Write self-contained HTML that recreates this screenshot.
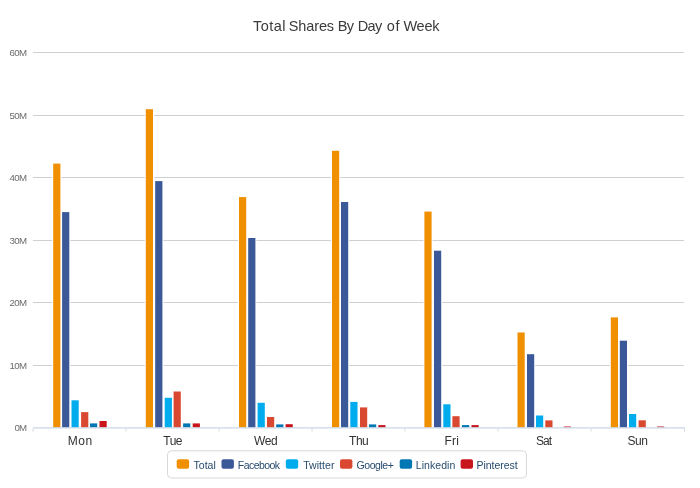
<!DOCTYPE html>
<html><head><meta charset="utf-8"><title>Total Shares By Day of Week</title>
<style>
html,body{margin:0;padding:0;background:#fff}
svg{display:block}
text{font-family:"Liberation Sans",sans-serif}
</style></head><body>
<svg width="700" height="488" viewBox="0 0 700 488">
<defs><filter id="soft" x="0" y="0" width="100%" height="100%" filterUnits="userSpaceOnUse"><feGaussianBlur stdDeviation="0.3"/></filter></defs>
<rect width="700" height="488" fill="#fff"/>
<g filter="url(#soft)">

<path d="M33 52.5H684" stroke="#d0d0d0" stroke-width="1"/>
<path d="M33 115.5H684" stroke="#d0d0d0" stroke-width="1"/>
<path d="M33 177.5H684" stroke="#d0d0d0" stroke-width="1"/>
<path d="M33 240.5H684" stroke="#d0d0d0" stroke-width="1"/>
<path d="M33 302.5H684" stroke="#d0d0d0" stroke-width="1"/>
<path d="M33 365.5H684" stroke="#d0d0d0" stroke-width="1"/>
<text y="31.1" font-size="14.5" fill="#3a3a3a"><tspan x="252.93" style="letter-spacing:0.49px">Total</tspan> <tspan x="288.75" style="letter-spacing:-0.12px">Shares</tspan> <tspan x="337.75" style="letter-spacing:-0.62px">By</tspan> <tspan x="357.75" style="letter-spacing:-0.60px">Day</tspan> <tspan x="386.67" style="letter-spacing:0.80px">of</tspan> <tspan x="403.38" style="letter-spacing:-0.21px">Week</tspan></text>
<text x="27" y="55.6" text-anchor="end" font-size="9.7" fill="#6c6c6c" textLength="17.6" lengthAdjust="spacing">60M</text>
<text x="27" y="118.6" text-anchor="end" font-size="9.7" fill="#6c6c6c" textLength="17.6" lengthAdjust="spacing">50M</text>
<text x="27" y="180.6" text-anchor="end" font-size="9.7" fill="#6c6c6c" textLength="17.6" lengthAdjust="spacing">40M</text>
<text x="27" y="243.6" text-anchor="end" font-size="9.7" fill="#6c6c6c" textLength="17.6" lengthAdjust="spacing">30M</text>
<text x="27" y="305.6" text-anchor="end" font-size="9.7" fill="#6c6c6c" textLength="17.6" lengthAdjust="spacing">20M</text>
<text x="27" y="368.6" text-anchor="end" font-size="9.7" fill="#6c6c6c" textLength="17.6" lengthAdjust="spacing">10M</text>
<text x="27" y="431.0" text-anchor="end" font-size="9.7" fill="#6c6c6c" textLength="12.5" lengthAdjust="spacing">0M</text>
<rect x="52.2" y="162.6" width="9.2" height="264.9" fill="#fff"/>
<rect x="53.2" y="163.6" width="7.2" height="263.9" fill="#F09000"/>
<rect x="61.1" y="211.1" width="9.2" height="216.4" fill="#fff"/>
<rect x="62.1" y="212.1" width="7.2" height="215.4" fill="#3B5998"/>
<rect x="70.5" y="399.3" width="9.2" height="28.2" fill="#fff"/>
<rect x="71.5" y="400.3" width="7.2" height="27.2" fill="#00ACEE"/>
<rect x="80.1" y="411.1" width="9.2" height="16.4" fill="#fff"/>
<rect x="81.1" y="412.1" width="7.2" height="15.4" fill="#D94A32"/>
<rect x="89.0" y="422.4" width="9.2" height="5.1" fill="#fff"/>
<rect x="90.0" y="423.4" width="7.2" height="4.1" fill="#0077B5"/>
<rect x="98.5" y="420.0" width="9.2" height="7.5" fill="#fff"/>
<rect x="99.5" y="421.0" width="7.2" height="6.5" fill="#C9161F"/>
<rect x="144.8" y="108.2" width="9.2" height="319.3" fill="#fff"/>
<rect x="145.8" y="109.2" width="7.2" height="318.3" fill="#F09000"/>
<rect x="154.2" y="180.1" width="9.2" height="247.4" fill="#fff"/>
<rect x="155.2" y="181.1" width="7.2" height="246.4" fill="#3B5998"/>
<rect x="163.7" y="396.8" width="9.2" height="30.7" fill="#fff"/>
<rect x="164.7" y="397.8" width="7.2" height="29.7" fill="#00ACEE"/>
<rect x="172.6" y="390.5" width="9.2" height="37.0" fill="#fff"/>
<rect x="173.6" y="391.5" width="7.2" height="36.0" fill="#D94A32"/>
<rect x="182.1" y="422.4" width="9.2" height="5.1" fill="#fff"/>
<rect x="183.1" y="423.4" width="7.2" height="4.1" fill="#0077B5"/>
<rect x="191.7" y="422.4" width="9.2" height="5.1" fill="#fff"/>
<rect x="192.7" y="423.4" width="7.2" height="4.1" fill="#C9161F"/>
<rect x="238.0" y="196.1" width="9.2" height="231.4" fill="#fff"/>
<rect x="239.0" y="197.1" width="7.2" height="230.4" fill="#F09000"/>
<rect x="247.2" y="237.0" width="9.2" height="190.5" fill="#fff"/>
<rect x="248.2" y="238.0" width="7.2" height="189.5" fill="#3B5998"/>
<rect x="256.6" y="401.8" width="9.2" height="25.7" fill="#fff"/>
<rect x="257.6" y="402.8" width="7.2" height="24.7" fill="#00ACEE"/>
<rect x="266.0" y="416.0" width="9.2" height="11.5" fill="#fff"/>
<rect x="267.0" y="417.0" width="7.2" height="10.5" fill="#D94A32"/>
<rect x="275.2" y="423.4" width="9.2" height="4.1" fill="#fff"/>
<rect x="276.2" y="424.4" width="7.2" height="3.1" fill="#0077B5"/>
<rect x="284.6" y="423.2" width="9.2" height="4.3" fill="#fff"/>
<rect x="285.6" y="424.2" width="7.2" height="3.3" fill="#C9161F"/>
<rect x="331.0" y="149.8" width="9.2" height="277.7" fill="#fff"/>
<rect x="332.0" y="150.8" width="7.2" height="276.7" fill="#F09000"/>
<rect x="340.0" y="201.0" width="9.2" height="226.5" fill="#fff"/>
<rect x="341.0" y="202.0" width="7.2" height="225.5" fill="#3B5998"/>
<rect x="349.3" y="400.9" width="9.2" height="26.6" fill="#fff"/>
<rect x="350.3" y="401.9" width="7.2" height="25.6" fill="#00ACEE"/>
<rect x="359.0" y="406.4" width="9.2" height="21.1" fill="#fff"/>
<rect x="360.0" y="407.4" width="7.2" height="20.1" fill="#D94A32"/>
<rect x="368.0" y="423.4" width="9.2" height="4.1" fill="#fff"/>
<rect x="369.0" y="424.4" width="7.2" height="3.1" fill="#0077B5"/>
<rect x="377.3" y="424.1" width="9.2" height="3.4" fill="#fff"/>
<rect x="378.3" y="425.1" width="7.2" height="2.4" fill="#C9161F"/>
<rect x="423.4" y="210.6" width="9.2" height="216.9" fill="#fff"/>
<rect x="424.4" y="211.6" width="7.2" height="215.9" fill="#F09000"/>
<rect x="433.0" y="249.7" width="9.2" height="177.8" fill="#fff"/>
<rect x="434.0" y="250.7" width="7.2" height="176.8" fill="#3B5998"/>
<rect x="442.3" y="403.3" width="9.2" height="24.2" fill="#fff"/>
<rect x="443.3" y="404.3" width="7.2" height="23.2" fill="#00ACEE"/>
<rect x="451.4" y="415.2" width="9.2" height="12.3" fill="#fff"/>
<rect x="452.4" y="416.2" width="7.2" height="11.3" fill="#D94A32"/>
<rect x="461.0" y="424.1" width="9.2" height="3.4" fill="#fff"/>
<rect x="462.0" y="425.1" width="7.2" height="2.4" fill="#0077B5"/>
<rect x="470.5" y="424.1" width="9.2" height="3.4" fill="#fff"/>
<rect x="471.5" y="425.1" width="7.2" height="2.4" fill="#C9161F"/>
<rect x="516.5" y="331.5" width="9.2" height="96.0" fill="#fff"/>
<rect x="517.5" y="332.5" width="7.2" height="95.0" fill="#F09000"/>
<rect x="526.0" y="353.2" width="9.2" height="74.3" fill="#fff"/>
<rect x="527.0" y="354.2" width="7.2" height="73.3" fill="#3B5998"/>
<rect x="535.0" y="414.5" width="9.2" height="13.0" fill="#fff"/>
<rect x="536.0" y="415.5" width="7.2" height="12.0" fill="#00ACEE"/>
<rect x="544.3" y="419.4" width="9.2" height="8.1" fill="#fff"/>
<rect x="545.3" y="420.4" width="7.2" height="7.1" fill="#D94A32"/>
<rect x="562.8" y="425.3" width="9.2" height="2.3" fill="#fff"/>
<rect x="563.8" y="426.3" width="7.2" height="1.3" fill="#C9161F" opacity="0.7"/>
<rect x="609.8" y="316.4" width="9.2" height="111.1" fill="#fff"/>
<rect x="610.8" y="317.4" width="7.2" height="110.1" fill="#F09000"/>
<rect x="618.8" y="339.7" width="9.2" height="87.8" fill="#fff"/>
<rect x="619.8" y="340.7" width="7.2" height="86.8" fill="#3B5998"/>
<rect x="628.0" y="413.0" width="9.2" height="14.5" fill="#fff"/>
<rect x="629.0" y="414.0" width="7.2" height="13.5" fill="#00ACEE"/>
<rect x="637.6" y="419.3" width="9.2" height="8.2" fill="#fff"/>
<rect x="638.6" y="420.3" width="7.2" height="7.2" fill="#D94A32"/>
<rect x="656.0" y="425.3" width="9.2" height="2.3" fill="#fff"/>
<rect x="657.0" y="426.3" width="7.2" height="1.3" fill="#C9161F" opacity="0.7"/>
<path d="M33 427.9H685" stroke="#CAD6E4" stroke-width="1.3"/>
<path d="M33 428.5V431.6" stroke="#C0D0E0" stroke-width="1" opacity="0.75"/>
<path d="M126 428.5V431.6" stroke="#C0D0E0" stroke-width="1" opacity="0.75"/>
<path d="M219 428.5V431.6" stroke="#C0D0E0" stroke-width="1" opacity="0.75"/>
<path d="M312 428.5V431.6" stroke="#C0D0E0" stroke-width="1" opacity="0.75"/>
<path d="M405 428.5V431.6" stroke="#C0D0E0" stroke-width="1" opacity="0.75"/>
<path d="M498 428.5V431.6" stroke="#C0D0E0" stroke-width="1" opacity="0.75"/>
<path d="M591 428.5V431.6" stroke="#C0D0E0" stroke-width="1" opacity="0.75"/>
<path d="M684.5 428.5V431.6" stroke="#C0D0E0" stroke-width="1" opacity="0.75"/>
<text x="67.7" y="444.6" font-size="12" fill="#333" textLength="24.4" lengthAdjust="spacing">Mon</text>
<text x="163.3" y="444.6" font-size="12" fill="#333" textLength="19.2" lengthAdjust="spacing">Tue</text>
<text x="253.9" y="444.6" font-size="12" fill="#333" textLength="23.8" lengthAdjust="spacing">Wed</text>
<text x="349.1" y="444.6" font-size="12" fill="#333" textLength="19.7" lengthAdjust="spacing">Thu</text>
<text x="444.6" y="444.6" font-size="12" fill="#333" textLength="14.2" lengthAdjust="spacing">Fri</text>
<text x="536.0" y="444.6" font-size="12" fill="#333" textLength="16.2" lengthAdjust="spacing">Sat</text>
<text x="627.4" y="444.6" font-size="12" fill="#333" textLength="20.6" lengthAdjust="spacing">Sun</text>
<rect x="167.5" y="450.8" width="359" height="27.2" rx="4" fill="#fff" stroke="#d8d8d8" stroke-width="1"/>
<rect x="176.7" y="459.2" width="12.4" height="9.6" rx="2" fill="#F09000"/>
<text x="193.5" y="468.5" font-size="10.5" fill="#274b6d" textLength="22.3" lengthAdjust="spacing">Total</text>
<rect x="221.5" y="459.2" width="12.4" height="9.6" rx="2" fill="#3B5998"/>
<text x="237.8" y="468.5" font-size="10.5" fill="#274b6d" textLength="42.3" lengthAdjust="spacing">Facebook</text>
<rect x="285.8" y="459.2" width="12.4" height="9.6" rx="2" fill="#00ACEE"/>
<text x="303.2" y="468.5" font-size="10.5" fill="#274b6d" textLength="31.2" lengthAdjust="spacing">Twitter</text>
<rect x="340.0" y="459.2" width="12.4" height="9.6" rx="2" fill="#D94A32"/>
<text x="356.5" y="468.5" font-size="10.5" fill="#274b6d" textLength="37.4" lengthAdjust="spacing">Google+</text>
<rect x="399.7" y="459.2" width="12.4" height="9.6" rx="2" fill="#0077B5"/>
<text x="415.8" y="468.5" font-size="10.5" fill="#274b6d" textLength="39.5" lengthAdjust="spacing">Linkedin</text>
<rect x="460.6" y="459.2" width="12.4" height="9.6" rx="2" fill="#C9161F"/>
<text x="476.6" y="468.5" font-size="10.5" fill="#274b6d" textLength="41.0" lengthAdjust="spacing">Pinterest</text>
</g></svg></body></html>
